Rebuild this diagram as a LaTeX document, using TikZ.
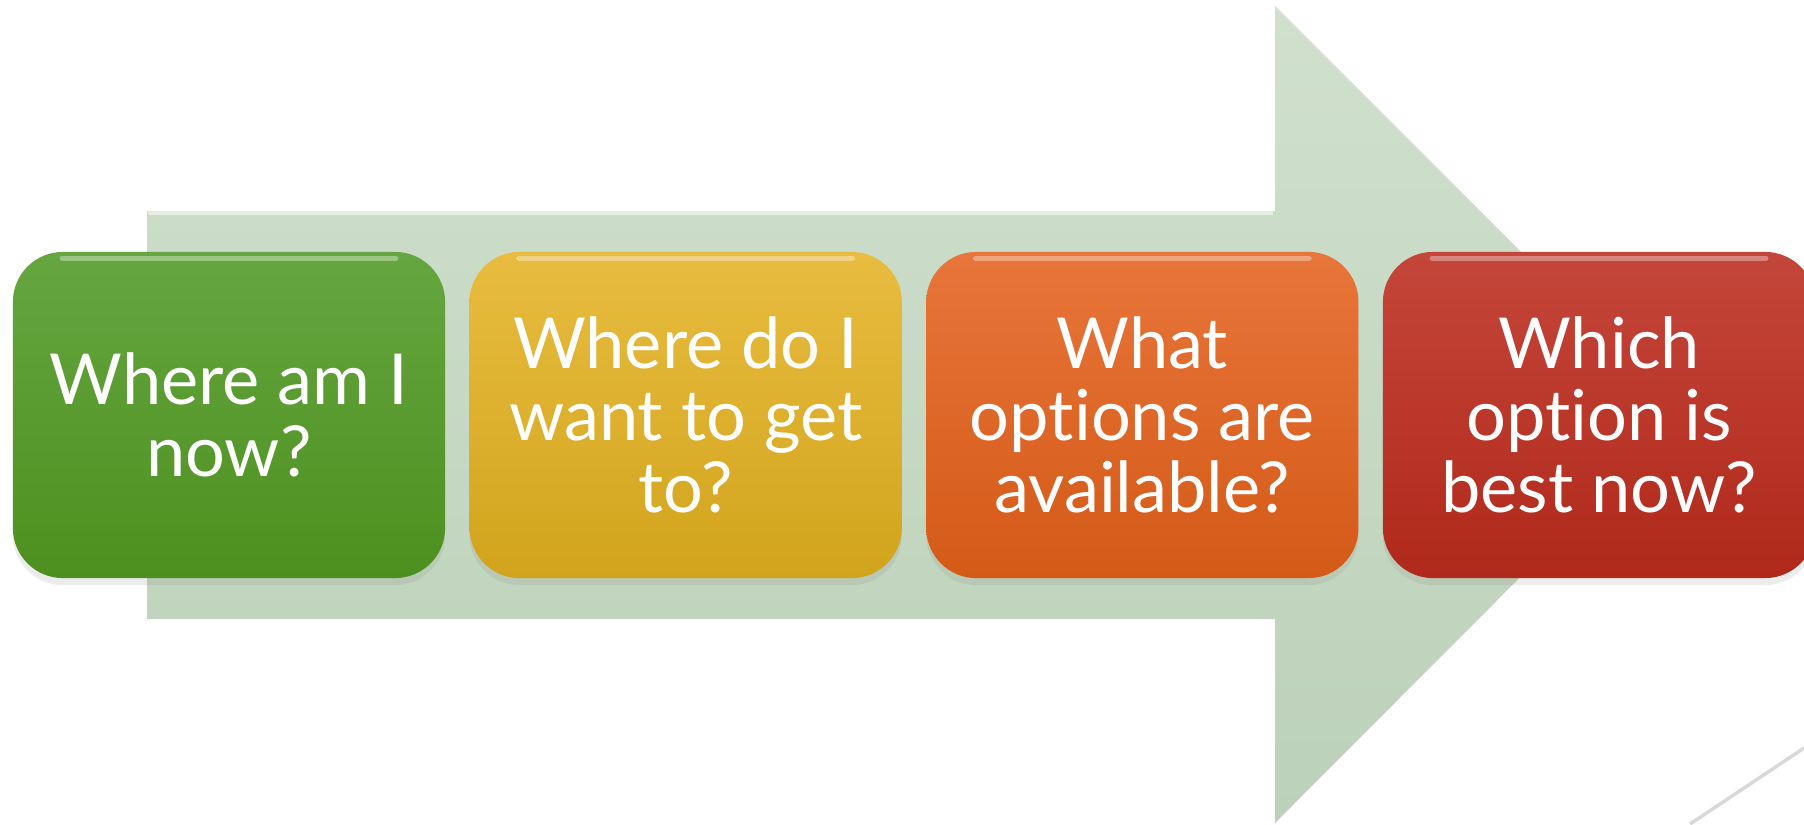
\documentclass[tikz,border=0pt]{standalone}
\usepackage{fontspec}
\setmainfont{Lato}[Ligatures=NoCommon]
\usetikzlibrary{positioning,shadows}
\definecolor{arrowtop}{RGB}{208,224,205}
\definecolor{arrowbot}{RGB}{188,209,185}
\definecolor{greentop}{RGB}{101,166,64}
\definecolor{greenbot}{RGB}{78,144,31}
\definecolor{yellowtop}{RGB}{232,188,64}
\definecolor{yellowbot}{RGB}{210,164,28}
\definecolor{orangetop}{RGB}{232,117,58}
\definecolor{orangebot}{RGB}{212,90,23}
\definecolor{redtop}{RGB}{196,70,58}
\definecolor{redbot}{RGB}{176,41,26}
\definecolor{linegray}{RGB}{217,217,217}
\begin{document}
\begin{tikzpicture}[x=0.01cm,y=-0.01cm]
  \tikzstyle{stage}=[rectangle,rounded corners=0.5cm,minimum width=4.32cm,minimum height=3.26cm,
    inner sep=0pt,align=center,text=white,font=\fontsize{20}{20.5}\selectfont,
    drop shadow={opacity=0.15,shadow xshift=0pt,shadow yshift=-2pt}]
  \tikzstyle{glow}=[line width=1.5pt,white,opacity=0.35,line cap=round]
  \useasboundingbox (0,0) rectangle (1804,824);
  % big arrow behind the steps
  \shade[top color=arrowtop,bottom color=arrowbot] (147,211) -- (1275,211) -- (1275,6)
    -- (1683,414) -- (1275,823) -- (1275,619) -- (147,619) -- cycle;
  \draw[white,opacity=0.5,line width=1pt] (148,213) -- (1273,213);
  \node[stage,top color=greentop,bottom color=greenbot] (here) at (229,415) {Where am I\\now?};
  \node[stage,top color=yellowtop,bottom color=yellowbot,right=0.23cm of here] (goal) {Where do I\\want to get\\to?};
  \node[stage,top color=orangetop,bottom color=orangebot,right=0.23cm of goal] (options) {What\\options are\\available?};
  \node[stage,top color=redtop,bottom color=redbot,right=0.23cm of options] (best) {Which\\option is\\best now?};
  % glossy top edge
  \foreach \n in {here,goal,options,best}
    \draw[glow] ([xshift=0.5cm,yshift=-0.07cm]\n.north west) -- ([xshift=-0.5cm,yshift=-0.07cm]\n.north east);
  % thin line in the corner
  \draw[linegray,line width=1pt] (1690,824) -- (1804,748);
\end{tikzpicture}
\end{document}
